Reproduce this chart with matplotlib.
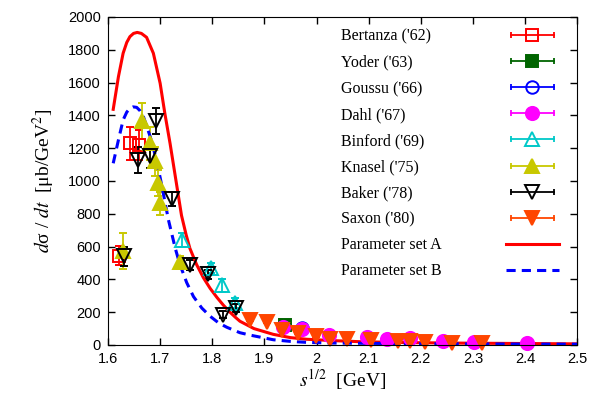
import numpy as np
import matplotlib
matplotlib.use("Agg")
import matplotlib.pyplot as plt
from matplotlib.lines import Line2D
from matplotlib.legend_handler import HandlerLine2D
from matplotlib.ticker import FormatStrFormatter

plt.rcParams['font.family'] = ['Liberation Serif', 'DejaVu Serif']
plt.rcParams['mathtext.fontset'] = 'stix'

# ---- data ----
bertanza_x = [1.622, 1.643, 1.660]
bertanza_y = [545, 1230, 1220]
bertanza_e = [60, 100, 90]

yoder_x = [1.940]
yoder_y = [120]
yoder_e = [10]

goussu_x = [1.972]
goussu_y = [105]
goussu_e = [10]

dahl_x = [1.936, 1.972, 2.023, 2.096, 2.135, 2.180, 2.242, 2.303, 2.404]
dahl_y = [112, 98, 63, 51, 35, 40, 22, 20, 10]
dahl_e = [8, 8, 6, 6, 5, 5, 4, 4, 3]

binford_x = [1.741, 1.797, 1.818, 1.844]
binford_y = [640, 470, 365, 255]
binford_e = [40, 30, 40, 30]

knasel_x = [1.628, 1.665, 1.680, 1.690, 1.696, 1.700, 1.738]
knasel_y = [575, 1365, 1230, 1120, 990, 865, 505]
knasel_e = [110, 110, 100, 90, 80, 70, 40]

baker_x = [1.631, 1.658, 1.681, 1.693, 1.722, 1.757, 1.792, 1.821, 1.845]
baker_y = [540, 1130, 1150, 1365, 890, 490, 430, 185, 225]
baker_e = [60, 80, 70, 80, 40, 30, 30, 20, 25]

saxon_x = [1.873, 1.905, 1.933, 1.965, 1.999, 2.026, 2.058, 2.105, 2.157,
           2.180, 2.208, 2.260, 2.318]
saxon_y = [152, 140, 91, 71, 55, 38, 38, 28, 22, 22, 18, 15, 12]
saxon_e = [8, 8, 6, 6, 5, 5, 5, 4, 4, 4, 4, 3, 3]

# model curves
setA_x = [1.610, 1.620, 1.629, 1.636, 1.642, 1.649, 1.656, 1.664, 1.674,
          1.687, 1.700, 1.709, 1.719, 1.729, 1.741, 1.750, 1.757, 1.770,
          1.783, 1.796, 1.809, 1.821, 1.834, 1.844, 1.853, 1.880, 1.917,
          1.950, 1.981, 2.030, 2.084, 2.150, 2.250, 2.350, 2.500]
setA_y = [1437, 1636, 1779, 1845, 1880, 1900, 1906, 1900, 1876, 1779, 1596,
          1413, 1230, 1030, 790, 670, 590, 490, 410, 345, 290, 244, 200, 170,
          145, 100, 65, 45, 35, 27, 20, 16, 12, 10, 7]

setB_x = [1.610, 1.620, 1.629, 1.636, 1.642, 1.648, 1.655, 1.661, 1.668,
          1.681, 1.693, 1.703, 1.716, 1.729, 1.738, 1.751, 1.764, 1.780,
          1.796, 1.812, 1.828, 1.853, 1.873, 1.917, 1.950, 1.981, 2.030,
          2.100, 2.200, 2.350, 2.500]
setB_y = [1108, 1250, 1372, 1420, 1443, 1452, 1449, 1430, 1392, 1270, 1128,
          975, 762, 590, 490, 380, 295, 225, 175, 135, 108, 75, 60, 32, 22,
          16, 12, 10, 8, 6, 5]

series = [
    ("Bertanza ('62)", bertanza_x, bertanza_y, bertanza_e, '#ff0000', 's', 'none', 8.5),
    ("Yoder ('63)", yoder_x, yoder_y, yoder_e, '#006400', 's', None, 8.5),
    ("Goussu ('66)", goussu_x, goussu_y, goussu_e, '#0000ff', 'o', 'none', 9),
    ("Dahl ('67)", dahl_x, dahl_y, dahl_e, '#ff00ff', 'o', None, 9.5),
    ("Binford ('69)", binford_x, binford_y, binford_e, '#00c8c8', '^', 'none', 10.5),
    ("Knasel ('75)", knasel_x, knasel_y, knasel_e, '#c8c800', '^', None, 10.5),
    ("Baker ('78)", baker_x, baker_y, baker_e, '#000000', 'v', 'none', 10.5),
    ("Saxon ('80)", saxon_x, saxon_y, saxon_e, '#ff4500', 'v', None, 10.5),
]

fig = plt.figure(figsize=(6, 4), dpi=100)
ax = fig.add_axes([0.18, 0.1375, 0.782, 0.82])

handles = []
hmap = {}
for name, x, y, e, c, m, fc, ms in series:
    mfc = c if fc is None else fc
    cont = ax.errorbar(x, y, yerr=e, fmt=m, color=c, mfc=mfc, mec=c, ms=ms,
                       mew=1.4, elinewidth=1.3, capsize=3, capthick=1.3)
    for art in cont.get_children():
        art.set_clip_on(False)
    caps = Line2D([], [], color=c, lw=1.3, marker='|', ms=5, mew=1.3)
    mark = Line2D([], [], color=c, marker=m, ls='none', ms=ms, mfc=mfc,
                  mec=c, mew=1.4)
    hmap[caps] = HandlerLine2D(numpoints=2)
    handles.append((caps, mark))

lineA, = ax.plot(setA_x, setA_y, '-', color='#ff0000', lw=2.2)
lineB, = ax.plot(setB_x, setB_y, '--', color='#0000ff', lw=2.2,
                 dashes=(3, 2))
handles += [lineA, lineB]
labels = [s[0] for s in series] + ["Parameter set A", "Parameter set B"]

ax.set_xlim(1.6, 2.5)
ax.set_ylim(0, 2000)
ax.set_xticks(np.arange(1.6, 2.501, 0.1))
ax.set_yticks(np.arange(0, 2001, 200))
ax.xaxis.set_major_formatter(FormatStrFormatter('%g'))
ax.tick_params(direction='in', top=True, right=True, length=5, width=1,
               labelsize=10.5, pad=5)
for lab in ax.get_xticklabels() + ax.get_yticklabels():
    lab.set_fontfamily('Liberation Sans')

ax.set_xlabel(r'$s^{1/2}$  [GeV]', fontsize=14, labelpad=1)
ax.set_ylabel(r'$d$σ / $dt$  [μb/GeV$^2$]', fontsize=14, labelpad=8)

# legend text (left aligned) and legend samples in two aligned columns
blank = [Line2D([], [], ls='none') for _ in labels]
leg1 = ax.legend(blank, labels, loc='upper left', frameon=False,
                 bbox_to_anchor=(0.568, 0.928), bbox_transform=fig.transFigure,
                 fontsize=11.5, handlelength=0, handletextpad=0,
                 labelspacing=0.63, borderpad=0, borderaxespad=0)
ax.add_artist(leg1)
ax.legend(handles, [''] * len(labels), handler_map=hmap, loc='upper left',
          frameon=False, bbox_to_anchor=(0.843, 0.928),
          bbox_transform=fig.transFigure, fontsize=11.5, handlelength=3.3,
          handletextpad=0, labelspacing=0.63, borderpad=0, borderaxespad=0)

fig.savefig("out.png", dpi=100)
